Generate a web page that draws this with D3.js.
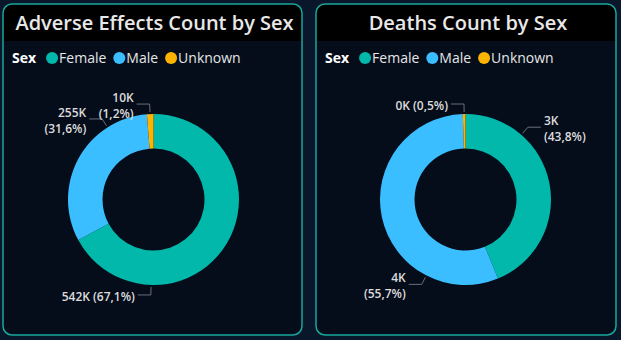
<!DOCTYPE html>
<html>
<head>
<meta charset="utf-8">
<script src="https://cdn.jsdelivr.net/npm/d3@7/dist/d3.min.js"></script>
<style>
  html, body { margin: 0; padding: 0; background: #0a172a; }
  svg { display: block; }
</style>
</head>
<body>
<svg id="chart" width="621" height="340"></svg>
<script>
// Categories and counts per panel
const sexes = ["Female", "Male", "Unknown"];
const adverseCounts = [541700, 255300, 9900];
const deathCounts = [3066, 3899, 35];
const panelTitles = ["Adverse Effects Count by Sex", "Deaths Count by Sex"];
const legendTitle = "Sex";

// Layout of each panel and its data labels (angle in degrees, clockwise from 12 o'clock)
const panels = [
  { x: 3, w: 299, cx: 153.5, counts: adverseCounts, title: panelTitles[0],
    labels: [
      { angle: 181.6, side: "left", wrap: false },
      { angle: 327.5, side: "left", wrap: true },
      { angle: 357.7, side: "left", wrap: true }
    ] },
  { x: 316, w: 300, cx: 465.5, counts: deathCounts, title: panelTitles[1],
    labels: [
      { angle: 40.8, side: "right", wrap: true },
      { angle: 207.3, side: "left", wrap: true },
      { angle: 359.1, side: "left", wrap: false }
    ] }
];

const color = d3.scaleOrdinal().domain(sexes).range(["#01b8aa", "#3bbeff", "#fdb400"]);
const fmtK = v => Math.round(v / 1000) + "K";
const fmtPct = p => "(" + (p * 100).toFixed(1).replace(".", ",") + "%)";

const svg = d3.select("#chart");
const panelTop = 4, panelH = 331, headerH = 36;
const cy = 199.5, rOuter = 85.5, rInner = 51;
const fontFamily = "'Segoe UI', 'Open Sans', sans-serif";

const pie = d3.pie().sort(null).value(d => d.value);
const arc = d3.arc().innerRadius(rInner).outerRadius(rOuter);

panels.forEach((p, pi) => {
  const g = svg.append("g");
  const clipId = "clip" + pi;
  svg.append("clipPath").attr("id", clipId)
    .append("rect").attr("x", p.x).attr("y", panelTop).attr("width", p.w).attr("height", panelH).attr("rx", 9);

  // panel body + header band
  g.append("rect").attr("x", p.x).attr("y", panelTop).attr("width", p.w).attr("height", panelH)
    .attr("rx", 9).attr("fill", "#050d1b");
  g.append("rect").attr("clip-path", `url(#${clipId})`)
    .attr("x", p.x).attr("y", panelTop).attr("width", p.w).attr("height", headerH + 1)
    .attr("fill", "#000000");
  g.append("rect").attr("x", p.x).attr("y", panelTop).attr("width", p.w).attr("height", panelH)
    .attr("rx", 9).attr("fill", "none").attr("stroke", "#18a89c").attr("stroke-width", 1.5);

  g.append("text").attr("x", p.x + p.w / 2 + 2).attr("y", 30)
    .attr("text-anchor", "middle").attr("fill", "#e8e8e8")
    .attr("font-family", fontFamily).attr("font-weight", 600).attr("font-size", 20)
    .text(p.title);

  // legend
  const lg = g.append("g").attr("transform", `translate(${p.x + 9},58)`)
    .attr("font-family", fontFamily).attr("font-size", 14);
  const lt = lg.append("text").attr("x", 0).attr("y", 5).attr("fill", "#ffffff")
    .attr("font-weight", 700).text(legendTitle);
  let lx = lt.node().getComputedTextLength() + 10;
  sexes.forEach(s => {
    lg.append("circle").attr("cx", lx + 6).attr("cy", 0).attr("r", 6).attr("fill", color(s));
    const t = lg.append("text").attr("x", lx + 13).attr("y", 5).attr("fill", "#e6e6e6").text(s);
    lx += 13 + t.node().getComputedTextLength() + 7;
  });

  // donut
  const data = sexes.map((s, i) => ({ key: s, value: p.counts[i] }));
  const total = d3.sum(data, d => d.value);
  const arcs = pie(data);
  const dg = g.append("g").attr("transform", `translate(${p.cx},${cy})`);
  dg.selectAll("path").data(arcs).join("path")
    .attr("d", arc).attr("fill", d => color(d.data.key));

  // data labels with leader lines
  arcs.forEach((a, i) => {
    const L = p.labels[i];
    const ang = L.angle * Math.PI / 180;
    const px = r => Math.sin(ang) * r, py = r => -Math.cos(ang) * r;
    const x0 = px(rOuter + 2), y0 = py(rOuter + 2);
    const x1 = px(rOuter + 10), y1 = py(rOuter + 10);
    const dir = L.side === "left" ? -1 : 1;
    const x2 = x1 + dir * 13;
    dg.append("polyline")
      .attr("points", [[x0, y0], [x1, y1], [x2, y1]].map(q => q.join(",")).join(" "))
      .attr("fill", "none").attr("stroke", "#6b6f76").attr("stroke-width", 1);
    const tx = x2 + dir * 3;
    const t = dg.append("text").attr("text-anchor", dir < 0 ? "end" : "start")
      .attr("font-family", fontFamily).attr("font-weight", 600).attr("font-size", 12)
      .attr("fill", "#dcdcdc");
    const k = fmtK(a.data.value), pc = fmtPct(a.data.value / total);
    if (L.wrap) {
      t.append("tspan").attr("x", tx).attr("y", y1 - 2).text(k);
      t.append("tspan").attr("x", tx).attr("y", y1 + 14).text(pc);
    } else {
      t.attr("x", tx).attr("y", y1 + 6).text(k + " " + pc);
    }
  });
});
</script>
</body>
</html>
